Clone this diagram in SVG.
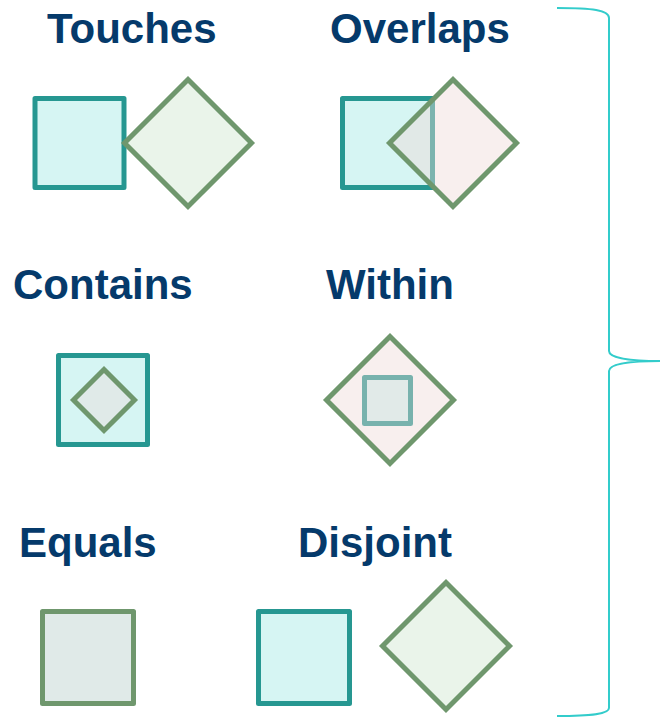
<svg xmlns="http://www.w3.org/2000/svg" width="660" height="718" viewBox="0 0 660 718">
<style>
.lbl{font-family:"Liberation Sans",Arial,sans-serif;font-weight:bold;font-size:42px;fill:#053a6b}
.sq{fill:#d6f5f3;stroke:#269791;stroke-width:5;stroke-linejoin:round}
.dm{fill:#eaf4ea;stroke:#6f976d;stroke-width:5;stroke-linejoin:miter}
.dmp{fill:#f8efee;stroke:#6f976d;stroke-width:5;stroke-linejoin:miter}
.grey{fill:#e0eae8}
.brace{fill:none;stroke:#33cccb;stroke-width:2}
</style>
<rect width="660" height="718" fill="#ffffff"/>
<g id="touches">
<text class="lbl" x="47" y="43">Touches</text>
<rect class="sq" x="35" y="98.5" width="89" height="89"/>
<polygon class="dm" points="188,79.5 251.5,143 188,206.5 124.5,143"/>
</g>
<g id="overlaps">
<text class="lbl" x="330" y="43">Overlaps</text>
<rect class="sq" x="342.5" y="98.5" width="90" height="89"/>
<polygon points="453,79.5 516.5,143 453,206.5 389.5,143" fill="#efd9d7" fill-opacity="0.43"/>
<polygon points="453,79.5 516.5,143 453,206.5 389.5,143" fill="none" stroke="#6f976d" stroke-width="5"/>
</g>
<g id="contains">
<text class="lbl" x="13" y="299">Contains</text>
<rect class="sq" x="58.5" y="355.5" width="89" height="89"/>
<polygon class="dm grey" points="104,369.5 134.5,400 104,430.5 73.5,400"/>
</g>
<g id="within">
<text class="lbl" x="326" y="299">Within</text>
<polygon class="dmp" points="390,336.5 453.5,400 390,463.5 326.5,400"/>
<rect x="364.5" y="377.5" width="46" height="46" fill="#e1eae8" stroke="#78b2ad" stroke-width="5" stroke-linejoin="round"/>
</g>
<g id="equals">
<text class="lbl" x="19" y="557">Equals</text>
<rect x="42.5" y="611.5" width="91" height="92" fill="#e0eae8" stroke="#6f976d" stroke-width="5" stroke-linejoin="round"/>
</g>
<g id="disjoint">
<text class="lbl" x="298" y="557">Disjoint</text>
<rect class="sq" x="258.5" y="611.5" width="91" height="92"/>
<polygon class="dm" points="446,582.5 509.5,646 446,709.5 382.5,646"/>
</g>
<g id="connectors">
<path class="brace" d="M557,8 C592,8 609,10 609,18 L609,351 C609,358 630,361 660,361 M660,361 C630,361 609,364 609,371 L609,708 C609,714 592,716 557,716"/>
</g>
</svg>
